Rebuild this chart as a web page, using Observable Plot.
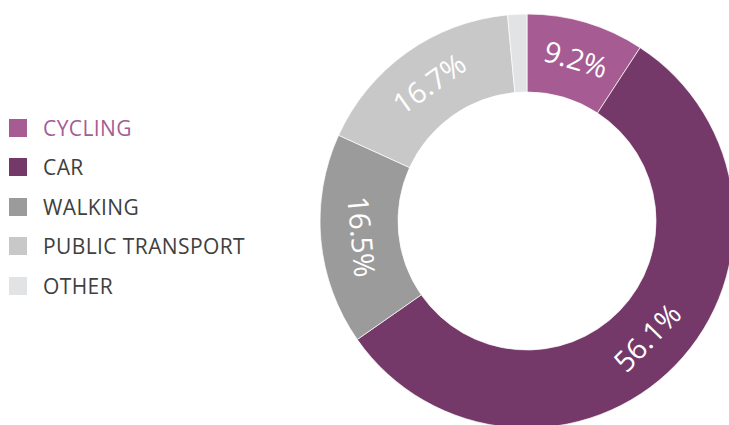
<!DOCTYPE html>
<html>
<head>
<meta charset="utf-8">
<script src="https://cdn.jsdelivr.net/npm/d3@7"></script>
<script src="https://cdn.jsdelivr.net/npm/@observablehq/plot@0.6"></script>
<style>
  html, body { margin: 0; padding: 0; background: #fff; }
  #wrap { position: relative; width: 729px; height: 425px; overflow: hidden; font-family: "Open Sans", sans-serif; }
  #chart { position: absolute; left: 0; top: 0; }
  #legend { position: absolute; left: 9px; top: 108px; }
  .row { display: flex; align-items: center; height: 39.5px; }
  .sw { width: 18px; height: 18px; margin-right: 16px; }
  .lab { font-size: 21px; color: #404040; letter-spacing: 0.4px; }
</style>
</head>
<body>
<div id="wrap">
  <div id="chart"></div>
  <div id="legend"></div>
</div>
<script>
const categories = ["CYCLING", "CAR", "WALKING", "PUBLIC TRANSPORT", "OTHER"];
const shares = [9.2, 56.1, 16.5, 16.7, 1.5];
const labels = ["9.2%", "56.1%", "16.5%", "16.7%", ""];
const palette = ["#a65c93", "#743968", "#9b9b9b", "#c8c8c8", "#e1e3e4"];

const data = categories.map((c, i) => ({category: c, value: shares[i], label: labels[i]}));

const W = 729, H = 425;
const CX = 527, CY = 221, R_OUT = 207, R_IN = 129;

const pie = d3.pie().sort(null).value(d => d.value);
const slices = pie(data);

const color = Plot.scale({color: {type: "ordinal", domain: categories, range: palette}});

const rMid = (R_OUT + R_IN) / 2;
const labelData = slices.filter(s => s.data.label).map(s => {
  const a = (s.startAngle + s.endAngle) / 2;
  let deg = a * 180 / Math.PI;
  let rot = (deg > 90 && deg < 270) ? deg - 180 : (deg >= 270 ? deg - 360 : deg);
  return {
    x: CX + rMid * Math.sin(a),
    y: CY - rMid * Math.cos(a),
    rotate: rot,
    text: s.data.label
  };
});

const arcsMark = (index, scales) => {
  const cx = scales.x(CX), cy = scales.y(CY);
  const arc = d3.arc().innerRadius(R_IN).outerRadius(R_OUT);
  const g = d3.create("svg:g").attr("transform", `translate(${cx},${cy})`);
  g.selectAll("path")
    .data(slices)
    .join("path")
    .attr("d", arc)
    .attr("fill", d => color.apply(d.data.category))
    .attr("stroke", "#ffffff")
    .attr("stroke-width", 0.7);
  return g.node();
};

const plot = Plot.plot({
  width: W,
  height: H,
  margin: 0,
  x: {domain: [0, W], range: [0, W], axis: null},
  y: {domain: [0, H], range: [0, H], axis: null},
  style: {background: "transparent", fontFamily: "'Open Sans', sans-serif"},
  marks: [
    arcsMark,
    Plot.text(labelData, {
      x: "x", y: "y", text: "text", rotate: "rotate",
      fill: "#ffffff", fontSize: 29, textAnchor: "middle", lineAnchor: "middle"
    })
  ]
});
document.getElementById("chart").appendChild(plot);

const legend = d3.select("#legend");
categories.forEach((c, i) => {
  const row = legend.append("div").attr("class", "row");
  row.append("div").attr("class", "sw").style("background", color.apply(c));
  row.append("div").attr("class", "lab").style("color", i === 0 ? color.apply(c) : null).text(c);
});
</script>
</body>
</html>
